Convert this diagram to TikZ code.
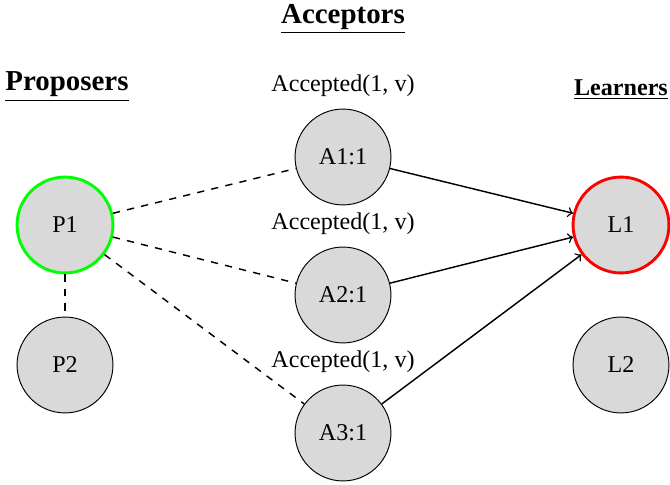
\documentclass[tikz,border=0pt]{standalone}
\usepackage{fontspec}
\setmainfont{Liberation Serif}
\begin{document}
\begin{tikzpicture}[x=0.01459cm,y=-0.01459cm,semithick]
\tikzstyle{agent} = [draw, circle, fill=gray!30, minimum size=39.8pt, inner sep=0pt, thin];
\tikzstyle{leader} = [agent, draw=green, line width=1.2pt];
\tikzstyle{reader} = [agent, draw=red, line width=1.2pt];
\tikzstyle{header} = [font=\fontsize{12}{14}\selectfont\bfseries, inner sep=0pt];
\useasboundingbox (0,0) rectangle (670,485);
% headers
\node[header] (hacc) at (343,19) {\underline{Acceptors}};
\node[header] (hpro) at (67,87) {\underline{Proposers}};
\node[font=\bfseries, inner sep=0pt] (hlea) at (621,90) {\underline{Learners}};
% proposers
\node[leader] (p1) at (65,225) {P1};
\node[agent] (p2) at (65,365) {P2};
% acceptors
\node[agent] (a1) at (343,157) {A1:1};
\node[agent] (a2) at (343,295) {A2:1};
\node[agent] (a3) at (343,433) {A3:1};
\node (m1) at (343,86) {Accepted(1, v)};
\node (m2) at (343,224) {Accepted(1, v)};
\node (m3) at (343,362) {Accepted(1, v)};
% learners
\node[reader] (l1) at (621,225) {L1};
\node[agent] (l2) at (621,365) {L2};
\draw[dashed] (p1) -- (p2);
\draw[dashed] (p1) -- (a1);
\draw[dashed] (p1) -- (a2);
\draw[dashed] (p1) -- (a3);
\draw[->] (a1) -- (l1);
\draw[->] (a2) -- (l1);
\draw[->] (a3) -- (l1);
\end{tikzpicture}
\end{document}
